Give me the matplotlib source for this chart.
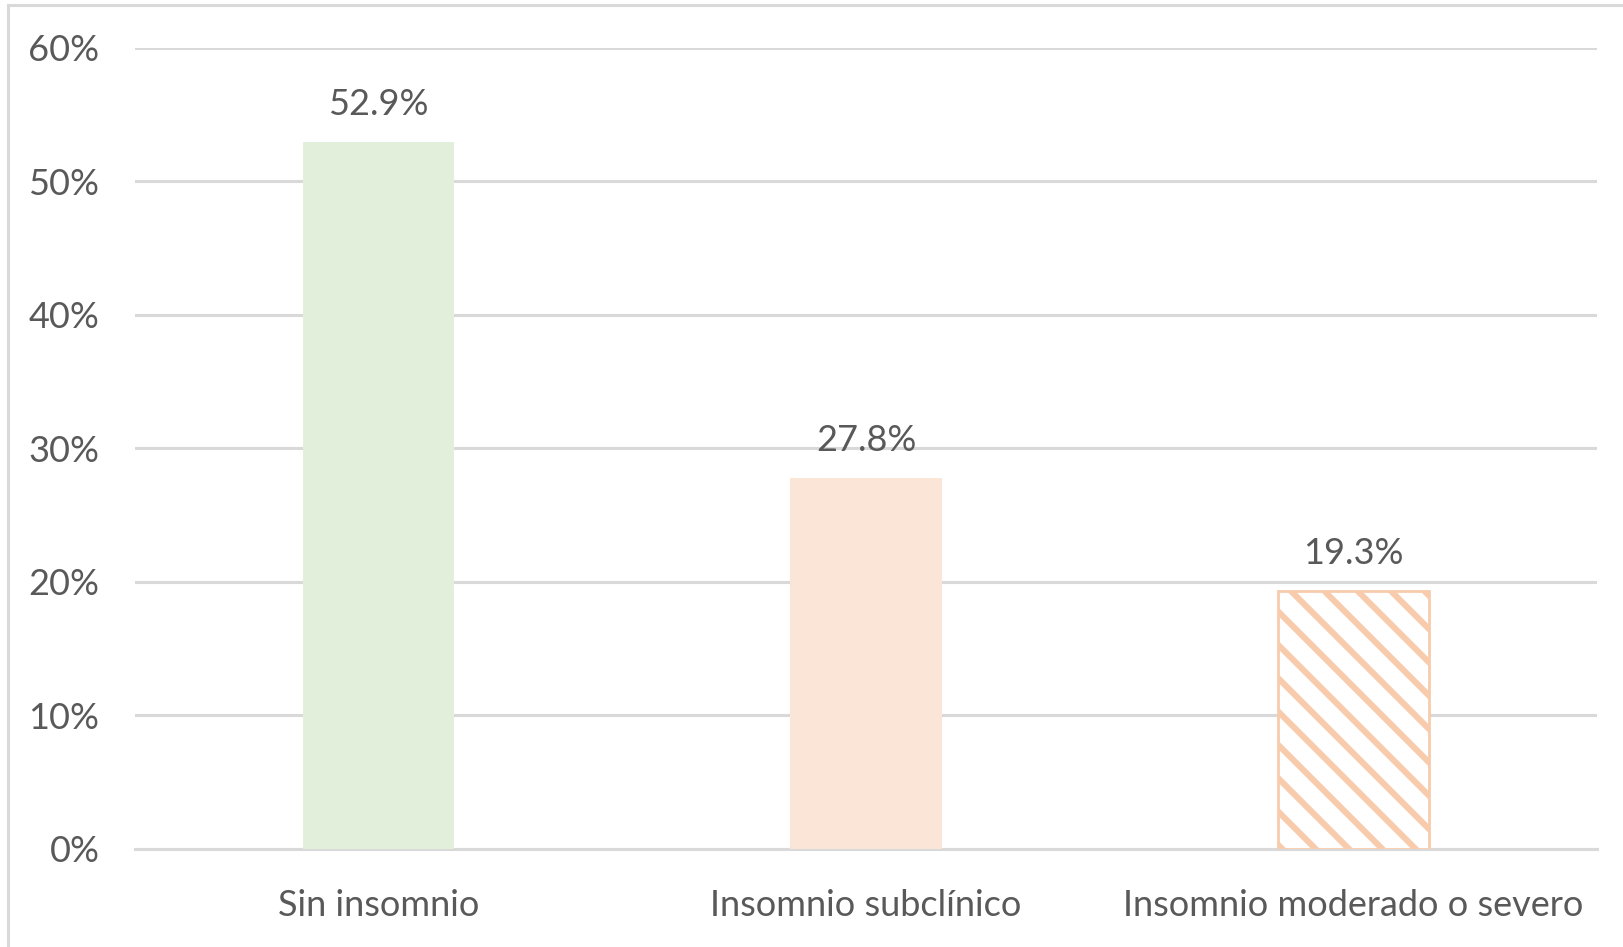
import matplotlib
matplotlib.use("Agg")
import matplotlib.pyplot as plt
from matplotlib.patches import Rectangle
from matplotlib.ticker import PercentFormatter

categories = ["Sin insomnio", "Insomnio subclínico", "Insomnio moderado o severo"]
values = [52.9, 27.8, 19.3]
value_labels = ["52.9%", "27.8%", "19.3%"]
yticks = [0, 10, 20, 30, 40, 50, 60]

text_col = "#595959"
grid_col = "#D9D9D9"

plt.rcParams["font.family"] = ["Lato", "DejaVu Sans"]
plt.rcParams["hatch.linewidth"] = 2.2

# dpi 200 so the hatch spacing matches the wide stripes
fig = plt.figure(figsize=(8.12, 4.735), dpi=200)
ax = fig.add_axes([0.0831, 0.1035, 0.9003, 0.8462])

x = list(range(len(categories)))
bars = ax.bar(x, values, width=0.31, zorder=3)
bars[0].set_facecolor("#E2EFDA")
bars[0].set_edgecolor("none")
bars[1].set_facecolor("#FBE5D6")
bars[1].set_edgecolor("none")
bars[2].set_facecolor("white")
bars[2].set_edgecolor("#F8CBAD")
bars[2].set_hatch("\\\\")
bars[2].set_linewidth(1.0)

for xi, v, lab in zip(x, values, value_labels):
    ax.annotate(lab, (xi, v), xytext=(0, 13.5), textcoords="offset points",
                ha="center", va="center", fontsize=13, color=text_col)

ax.set_xlim(-0.5, 2.5)
ax.set_ylim(0, 60)
ax.set_yticks(yticks)
ax.yaxis.set_major_formatter(PercentFormatter(decimals=0))
ax.set_xticks(x)
ax.set_xticklabels(categories)
ax.grid(axis="y", color=grid_col, linewidth=1.1, zorder=0)
ax.tick_params(axis="both", length=0, labelsize=13, labelcolor=text_col)
ax.tick_params(axis="y", pad=12.8)
ax.tick_params(axis="x", pad=14.5)
for s in ["top", "right", "left"]:
    ax.spines[s].set_visible(False)
ax.spines["bottom"].set_color(grid_col)
ax.spines["bottom"].set_linewidth(1.1)
ax.spines["bottom"].set_zorder(0)

# light frame around the chart area (only top/left visible in the crop)
fig.patches.append(Rectangle((8 / 1624, -0.1), 1.2, 1.1 - 5 / 947,
                             transform=fig.transFigure, fill=False,
                             edgecolor=grid_col, linewidth=1.1))

fig.savefig("out.png", dpi=200)
